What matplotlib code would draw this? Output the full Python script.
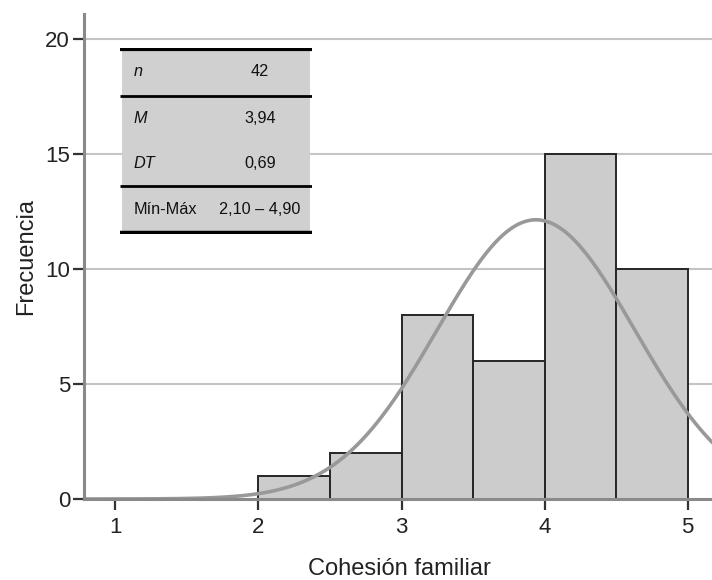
import numpy as np
import matplotlib.pyplot as plt
from matplotlib.patches import Rectangle

plt.rcParams['font.family'] = ['Liberation Sans', 'DejaVu Sans']

# histogram of "Cohesión familiar"
bin_edges = [2.0, 2.5, 3.0, 3.5, 4.0, 4.5, 5.0]
counts = [1, 2, 8, 6, 15, 10]

# summary statistics shown in the box
n_obs = 42
mean = 3.94
sd = 0.69
stat_labels = ['n', 'M', 'DT', 'Mín-Máx']
stat_values = ['42', '3,94', '0,69', '2,10 – 4,90']
stat_italic = [True, True, True, False]

x_ticks = [1, 2, 3, 4, 5]
y_ticks = [0, 5, 10, 15, 20]

W, H = 712, 580
fig = plt.figure(figsize=(W / 100, H / 100), dpi=100)
ax = fig.add_axes([84 / W, 1 - 499 / H, 1 - 84 / W, (499 - 14) / H])

# gridlines behind the bars
for y in y_ticks[1:]:
    ax.axhline(y, color='#c4c4c4', lw=1.5, zorder=0)

widths = np.diff(bin_edges)
ax.bar(bin_edges[:-1], counts, width=widths, align='edge',
       color='#cccccc', edgecolor='#262626', linewidth=1.4, zorder=2)

# normal curve scaled to counts
binw = widths[0]
xs = np.linspace(0.78, 5.2, 400)
ys = n_obs * binw / (sd * np.sqrt(2 * np.pi)) * np.exp(-0.5 * ((xs - mean) / sd) ** 2)
ax.plot(xs, ys, color='#999999', lw=2.6, zorder=3, solid_capstyle='round')

ax.set_xlim(0.78, 5.171)
ax.set_ylim(0, 21.09)
ax.set_xticks(x_ticks)
ax.set_yticks(y_ticks)
ax.tick_params(axis='both', labelsize=16, color='#333333', width=1.6,
               length=8, labelcolor='#222222')
ax.tick_params(axis='x', pad=5)
ax.tick_params(axis='y', pad=2)

for s in ['top', 'right']:
    ax.spines[s].set_visible(False)
for s in ['left', 'bottom']:
    ax.spines[s].set_color('#8a8a8a')
    ax.spines[s].set_linewidth(2.2)
    ax.spines[s].set_zorder(4)

fig.text(399 / W, 1 - 569 / H, 'Cohesión familiar', ha='center', va='center',
         fontsize=17, color='#222222')
fig.text(26 / W, 1 - 257 / H, 'Frecuencia', ha='center', va='center',
         rotation=90, fontsize=17, color='#222222')

# statistics box drawn in pixel coordinates on an overlay axes
tx0, ty0, tw, th = 120, 48, 192, 186
tab = fig.add_axes([tx0 / W, 1 - (ty0 + th) / H, tw / W, th / H])
tab.set_xlim(0, tw)
tab.set_ylim(th, 0)
tab.axis('off')
tab.add_patch(Rectangle((2, 0), tw - 4, th, facecolor='#d0d0d0', edgecolor='none'))
row_h = [48, 45, 45, 46]
row_top = np.concatenate([[0], np.cumsum(row_h)[:-1]])
for top, h, lab, val, it in zip(row_top, row_h, stat_labels, stat_values, stat_italic):
    yc = top + h / 2
    tab.text(14, yc, lab, ha='left', va='center', fontsize=11.7,
             style='italic' if it else 'normal', color='#111111')
    tab.text(140, yc, val, ha='center', va='center', fontsize=11.7, color='#111111')
for yl, lw in [(1, 3), (48, 2), (138, 2), (184.5, 3.2)]:
    tab.plot([0, tw], [yl, yl], color='black', lw=lw, solid_capstyle='butt')

fig.savefig('out.png', dpi=100)
